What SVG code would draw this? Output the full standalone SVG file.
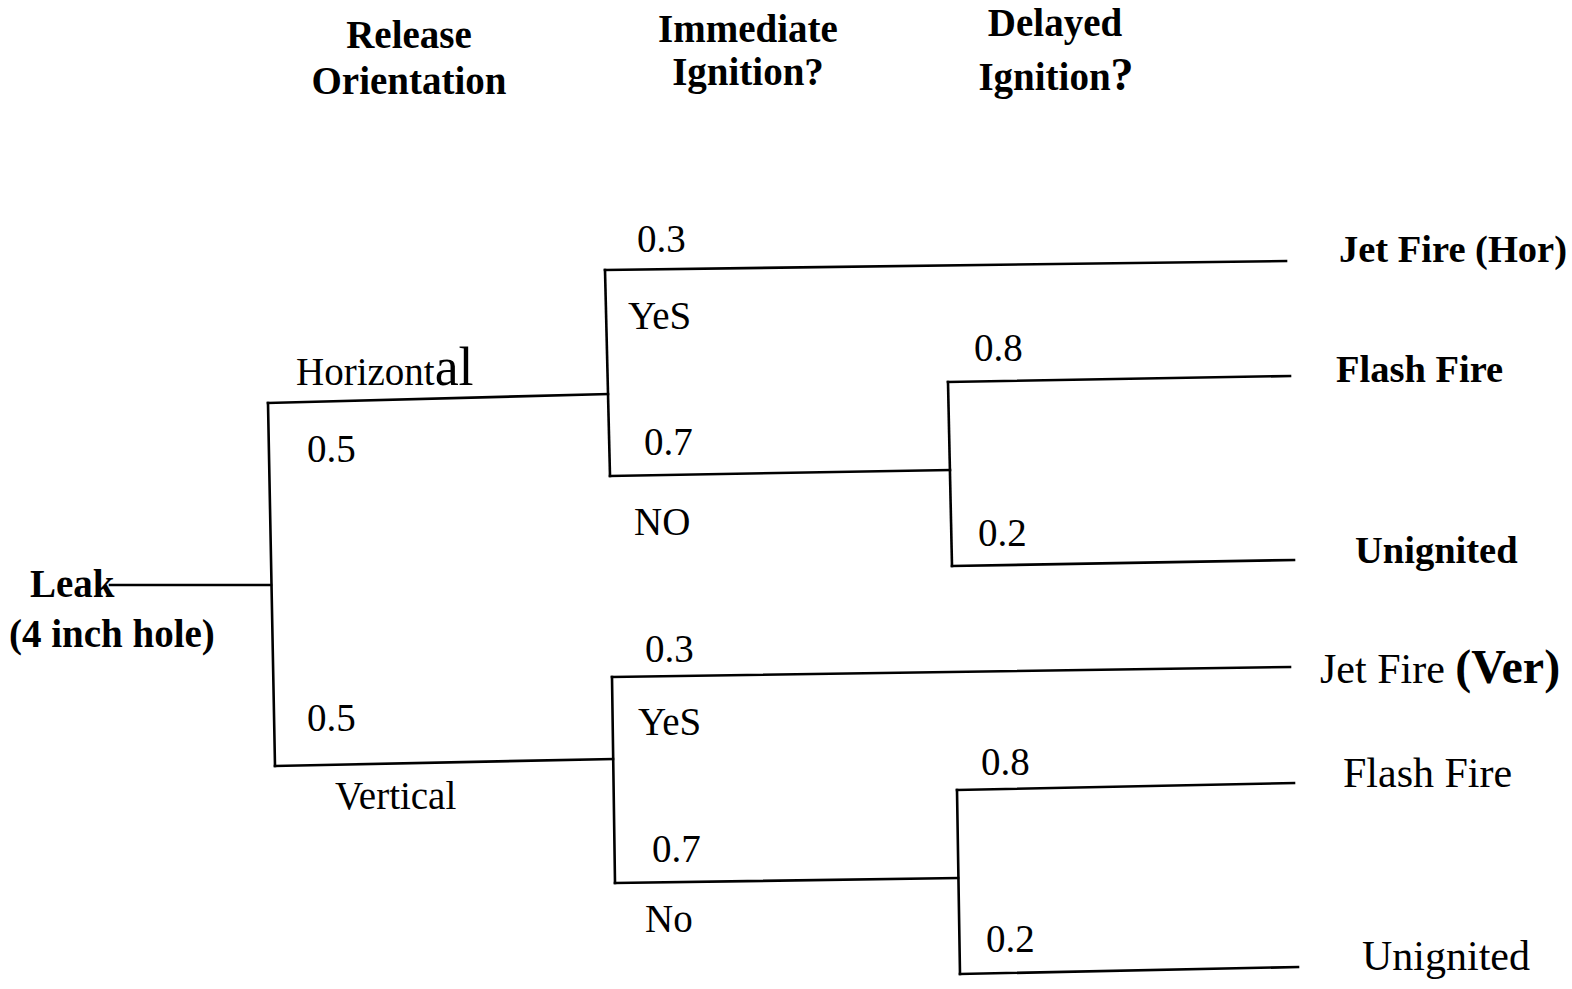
<svg xmlns="http://www.w3.org/2000/svg" width="1572" height="989" viewBox="0 0 1572 989">
<style>
text{font-family:"Liberation Serif","Times New Roman",serif;fill:#000}
.h{font-weight:bold;font-size:39px;text-anchor:middle}
.b{font-weight:bold;font-size:39px}
.r{font-size:39px}
.o{font-weight:bold;font-size:38.5px}
.ov{font-size:42px}
.c line{stroke:#000;stroke-width:2.6;stroke-linecap:square}
</style>
<rect width="1572" height="989" fill="#fff"/>
<g id="headers">
<text class="h" x="409" y="48">Release</text>
<text class="h" x="409" y="94">Orientation</text>
<text class="h" x="748" y="42">Immediate</text>
<text class="h" x="748" y="85">Ignition?</text>
<text class="h" x="1055" y="36">Delayed</text>
<text class="h" x="1056" y="90">Ignition<tspan font-size="46px">?</tspan></text>
</g>
<g class="c" id="connectors">
<line x1="110" y1="585" x2="271" y2="585"/>
<line x1="268" y1="403" x2="275" y2="766"/>
<line x1="268" y1="403" x2="608" y2="394"/>
<line x1="275" y1="766" x2="613" y2="759"/>
<line x1="605" y1="270" x2="610" y2="476"/>
<line x1="605" y1="270" x2="1286" y2="261"/>
<line x1="610" y1="476" x2="950" y2="470"/>
<line x1="948" y1="382" x2="952" y2="566"/>
<line x1="948" y1="382" x2="1290" y2="376"/>
<line x1="952" y1="566" x2="1294" y2="560"/>
<line x1="612" y1="677" x2="615" y2="883"/>
<line x1="612" y1="677" x2="1290" y2="667"/>
<line x1="615" y1="883" x2="958" y2="878"/>
<line x1="957" y1="790" x2="960" y2="974"/>
<line x1="957" y1="790" x2="1294" y2="783"/>
<line x1="960" y1="974" x2="1298" y2="967"/>
</g>
<g id="leak">
<text class="b" x="30" y="597">Leak</text>
<text class="b" x="9" y="647">(4 inch hole)</text>
</g>
<g id="orientation">
<text class="r" x="296" y="385" font-size="42px">Horizont<tspan font-size="54px">al</tspan></text>
<text class="r" x="307" y="462">0.5</text>
<text class="r" x="307" y="731">0.5</text>
<text class="r" x="335" y="809">Vertical</text>
</g>
<g id="immediate-hor">
<text class="r" x="637" y="252">0.3</text>
<text class="r" x="628" y="329">YeS</text>
<text class="r" x="644" y="455">0.7</text>
<text class="r" x="634" y="535">NO</text>
</g>
<g id="immediate-ver">
<text class="r" x="645" y="662">0.3</text>
<text class="r" x="638" y="735">YeS</text>
<text class="r" x="652" y="862">0.7</text>
<text class="r" x="645" y="932">No</text>
</g>
<g id="delayed-hor">
<text class="r" x="974" y="361">0.8</text>
<text class="r" x="978" y="546">0.2</text>
</g>
<g id="delayed-ver">
<text class="r" x="981" y="775">0.8</text>
<text class="r" x="986" y="952">0.2</text>
</g>
<g id="outcomes-hor">
<text class="o" x="1339" y="262" font-size="38px">Jet Fire (Hor)</text>
<text class="o" x="1336" y="382">Flash Fire</text>
<text class="o" x="1355" y="563" font-size="40.5px">Unignited</text>
</g>
<g id="outcomes-ver">
<text class="ov" x="1320" y="683" font-size="41px">Jet Fire <tspan font-weight="bold" font-size="48px">(Ver)</tspan></text>
<text class="ov" x="1343" y="787">Flash Fire</text>
<text class="ov" x="1362" y="970" font-size="43px">Unignited</text>
</g>
</svg>
